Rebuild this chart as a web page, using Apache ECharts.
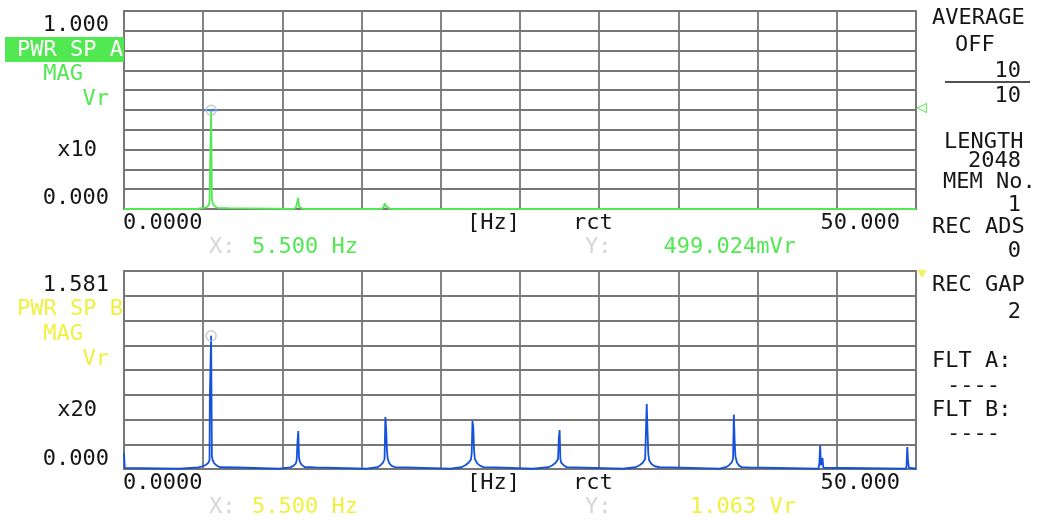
<!DOCTYPE html>
<html>
<head>
<meta charset="utf-8">
<script src="https://cdn.jsdelivr.net/npm/echarts@6/dist/echarts.min.js"></script>
<style>
html,body{margin:0;padding:0;background:#fff;}
#chart{width:1037px;height:521px;}
</style>
</head>
<body>
<div id="chart"></div>
<script>
// ---- data ----
var freqMin = 0, freqMax = 50, freqStep = 5;
var yMaxA = 1.000, yMaxB = 1.581;
var divA = 10, divB = 8;
// channel A power spectrum [Hz, Vr]
var specA = [[0,0],[4.6,0],[4.65,0.004],[5.2,0.008],[5.35,0.02],[5.4,0.035],[5.45,0.273],[5.5,0.499],[5.55,0.05],[5.6,0.03],[5.7,0.015],[5.9,0.006],[6.6,0.004],[6.65,0],
  [10.7,0],[10.85,0.006],[10.95,0.015],[11.0,0.056],[11.05,0.012],[11.15,0.005],[11.3,0],
  [16.25,0],[16.4,0.01],[16.45,0.028],[16.5,0.03],[16.55,0.014],[16.65,0.005],[16.8,0],
  [21.95,0],[22.0,0.006],[22.05,0],[38.45,0],[38.5,0.005],[38.55,0],[50,0]];
// channel B power spectrum [Hz, Vr]
var specB = [[0,0.128],[0.05,0.008],[0.1,0.002],[3.5,0.002],[3.55,0.012],[4.7,0.012],[4.95,0.02],[5.15,0.032],[5.3,0.045],[5.4,0.07],[5.42,0.575],[5.45,0.575],[5.5,1.063],[5.55,0.1],[5.6,0.07],[5.7,0.045],[5.85,0.028],[6.05,0.014],[7.2,0.012],[7.25,0.002],
  [9.8,0.002],[9.85,0.012],[10.5,0.013],[10.7,0.025],[10.85,0.045],[10.9,0.07],[10.95,0.21],[11.0,0.303],[11.05,0.09],[11.1,0.06],[11.2,0.035],[11.4,0.016],[12.1,0.013],[12.15,0.002],
  [15.3,0.002],[15.35,0.013],[16.0,0.014],[16.2,0.03],[16.35,0.05],[16.45,0.08],[16.5,0.415],[16.55,0.32],[16.6,0.15],[16.65,0.08],[16.75,0.045],[16.9,0.025],[17.1,0.015],[17.8,0.013],[17.85,0.002],
  [20.6,0.002],[20.65,0.013],[21.3,0.014],[21.55,0.03],[21.75,0.05],[21.9,0.075],[21.95,0.12],[22.0,0.383],[22.05,0.335],[22.1,0.15],[22.15,0.08],[22.3,0.045],[22.5,0.025],[22.7,0.015],[23.5,0.013],[23.55,0.002],
  [25.8,0.002],[25.85,0.013],[26.8,0.014],[27.05,0.03],[27.25,0.05],[27.4,0.08],[27.45,0.24],[27.5,0.311],[27.55,0.08],[27.6,0.05],[27.75,0.03],[27.95,0.015],[28.5,0.013],[28.55,0.002],
  [31.5,0.002],[31.55,0.013],[32.3,0.014],[32.55,0.03],[32.75,0.05],[32.9,0.08],[33.0,0.519],[33.05,0.31],[33.1,0.12],[33.15,0.07],[33.3,0.04],[33.5,0.022],[33.8,0.014],[34.5,0.013],[34.55,0.002],
  [37.6,0.002],[37.65,0.013],[38.0,0.014],[38.2,0.03],[38.35,0.05],[38.45,0.08],[38.5,0.434],[38.55,0.23],[38.6,0.1],[38.7,0.05],[38.85,0.025],[39.0,0.015],[39.5,0.013],[39.55,0.002],
  [43.85,0.002],[43.9,0.05],[43.95,0.19],[44.0,0.03],[44.05,0.02],[44.1,0.088],[44.15,0.01],[44.2,0.002],
  [49.35,0.002],[49.4,0.02],[49.45,0.176],[49.5,0.06],[49.55,0.01],[49.6,0.002],[50,0.002]];
var cursorA = [[5.5, 0.499]];
var cursorB = [[5.5, 1.063]];
var refA = [[50, 0.51]];
var refB = [[50, 1.56]];
var labelsA = {top:'1.000', bottom:'0.000', name:'PWR SP A', mode:'MAG', unit:'Vr', scale:'x10', xval:'5.500 Hz', yval:'499.024mVr'};
var labelsB = {top:'1.581', bottom:'0.000', name:'PWR SP B', mode:'MAG', unit:'Vr', scale:'x20', xval:'5.500 Hz', yval:'1.063 Vr'};
var xLabels = {left:'0.0000', unit:'[Hz]', win:'rct', right:'50.000'};
var sidePanel = [
  ['AVERAGE',932,18,'left'],['OFF',955,45,'left'],['10',1021,71,'right'],['10',1021,96,'right'],
  ['LENGTH',944,142,'left'],['2048',1021,161,'right'],['MEM No.',943,182,'left'],['1',1021,205,'right'],
  ['REC ADS',932,227,'left'],['0',1021,251,'right'],['REC GAP',932,285,'left'],['2',1021,312,'right'],
  ['FLT A:',932,361,'left'],['----',947,386,'left'],['FLT B:',932,410,'left'],['----',947,434,'left']
];

// ---- style ----
var GREEN = '#52e852', BLUE = '#1452dc', YELLOW = '#f0f040', GRID = '#777777', BLACK = '#161616', LGRAY = '#d6d6d6';
var FONT = '22px "DejaVu Sans Mono", "Liberation Mono", monospace';

function txt(s, x, y, color, align) {
  return {type:'text', silent:true, z:10, style:{text:s, x:x, y:y, fill:color, font:FONT,
    align:align||'left', textAlign:align||'left', verticalAlign:'middle', textVerticalAlign:'middle'}};
}

var g = [];
g.push({type:'rect', silent:true, z:9, shape:{x:5, y:37, width:119, height:25}, style:{fill:GREEN}});
function panel(L, oy, col, nameCol) {
  g.push(txt(L.top, 109, 25+oy, BLACK, 'right'));
  g.push(txt(L.name, 123, (oy?309:50), nameCol, 'right'));
  g.push(txt(L.mode, 83, (oy?334:74), col, 'right'));
  g.push(txt(L.unit, 109, (oy?359:99), col, 'right'));
  g.push(txt(L.scale, 97, 150+oy, BLACK, 'right'));
  g.push(txt(L.bottom, 109, (oy?459:198), BLACK, 'right'));
  g.push(txt(xLabels.left, 123, 223+oy, BLACK, 'left'));
  g.push(txt(xLabels.unit, 467, 223+oy, BLACK, 'left'));
  g.push(txt(xLabels.win, 573, 223+oy, BLACK, 'left'));
  g.push(txt(xLabels.right, 900, 223+oy, BLACK, 'right'));
  g.push(txt('X:', 209, 247+oy, LGRAY, 'left'));
  g.push(txt(L.xval, 252, 247+oy, col, 'left'));
  g.push(txt('Y:', 585, 247+oy, LGRAY, 'left'));
  g.push(txt(L.yval, 796, 247+oy, col, 'right'));
}
panel(labelsA, 0, GREEN, '#ffffff');
panel(labelsB, 260, YELLOW, YELLOW);
sidePanel.forEach(function(p){ g.push(txt(p[0], p[1], p[2], BLACK, p[3])); });
g.push({type:'line', silent:true, z:10, shape:{x1:945, y1:82, x2:1030, y2:82}, style:{stroke:BLACK, lineWidth:1.5}});

var split = {show:true, lineStyle:{color:GRID, width:1.8}};
var axLine = {show:true, lineStyle:{color:GRID, width:1.8}};
function xAx(i){ return {type:'value', gridIndex:i, min:freqMin, max:freqMax, interval:freqStep,
  axisLabel:{show:false}, axisTick:{show:false}, axisLine:axLine, splitLine:split}; }
function yAx(i, max, div){ return {type:'value', gridIndex:i, min:0, max:max, interval:max/div,
  axisLabel:{show:false}, axisTick:{show:false}, axisLine:axLine, splitLine:split}; }

var option = {
  animation:false,
  backgroundColor:'#ffffff',
  grid:[
    {left:124, top:11, width:792, height:198, show:true, borderColor:GRID, borderWidth:1.8},
    {left:124, top:271, width:792, height:198, show:true, borderColor:GRID, borderWidth:1.8}
  ],
  xAxis:[xAx(0), xAx(1)],
  yAxis:[yAx(0, yMaxA, divA), yAx(1, yMaxB, divB)],
  graphic:{elements:g},
  series:[
    {type:'line', xAxisIndex:0, yAxisIndex:0, data:specA, showSymbol:false, clip:false, z:3,
      lineStyle:{color:GREEN, width:1.8}},
    {type:'line', xAxisIndex:1, yAxisIndex:1, data:specB, showSymbol:false, clip:false, z:3,
      lineStyle:{color:BLUE, width:1.8}},
    {type:'scatter', xAxisIndex:0, yAxisIndex:0, data:cursorA, symbol:'rect', symbolSize:[14,2], clip:false, z:4,
      itemStyle:{color:'#3c74e4'}},
    {type:'scatter', xAxisIndex:0, yAxisIndex:0, data:cursorA, symbol:'circle', symbolSize:10, clip:false, z:5,
      itemStyle:{color:'rgba(255,255,255,0)', borderColor:'#bdbdbd', borderWidth:1.5}},
    {type:'scatter', xAxisIndex:1, yAxisIndex:1, data:cursorB, symbol:'circle', symbolSize:10, clip:false, z:5,
      itemStyle:{color:'rgba(255,255,255,0)', borderColor:'#bdbdbd', borderWidth:1.5}},
    {type:'scatter', xAxisIndex:0, yAxisIndex:0, data:refA, symbol:'triangle', symbolSize:[9,9], symbolRotate:90, symbolOffset:[6,0], clip:false, z:5,
      itemStyle:{color:'rgba(255,255,255,0)', borderColor:GREEN, borderWidth:1.2}},
    {type:'scatter', xAxisIndex:1, yAxisIndex:1, data:refB, symbol:'triangle', symbolSize:[8,7], symbolRotate:180, symbolOffset:[6,0], clip:false, z:5,
      itemStyle:{color:YELLOW, borderColor:YELLOW, borderWidth:1}}
  ]
};
var chart = echarts.init(document.getElementById('chart'), null, {renderer:'canvas'});
chart.setOption(option);
</script>
</body>
</html>
